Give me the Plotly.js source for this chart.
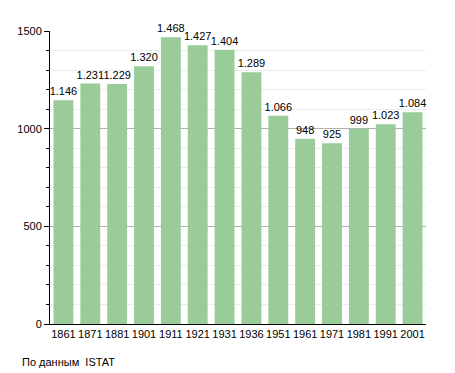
<!DOCTYPE html>
<html><head><meta charset="utf-8">
<script src="https://cdn.plot.ly/plotly-3.0.1.min.js"></script>
<style>html,body{margin:0;padding:0;background:#fff}#chart{width:455px;height:373px}</style>
</head><body><div id="chart"></div>
<script>
const years = ["1861","1871","1881","1901","1911","1921","1931","1936","1951","1961","1971","1981","1991","2001"];
const population = [1146,1231,1229,1320,1468,1427,1404,1289,1066,948,925,999,1023,1084];
const sourceNote = "По данным  ISTAT";

const trace = {
  type: 'bar', x: years, y: population,
  marker: {color: '#99cc99', line: {width: 0}},
  texttemplate: '%{y:,}', textposition: 'outside', cliponaxis: false, constraintext: 'none',
  textfont: {family: 'Liberation Sans, Arial, sans-serif', size: 11, color: '#000'},
  hoverinfo: 'none'
};
const layout = {
  width: 455, height: 373,
  margin: {l: 50, r: 29, t: 31, b: 49},
  separators: ',.',
  paper_bgcolor: '#fff', plot_bgcolor: '#fff',
  font: {family: 'Liberation Sans, Arial, sans-serif', size: 11, color: '#000'},
  bargap: 0.26,
  showlegend: false,
  xaxis: {type: 'category', showline: true, linecolor: '#000', linewidth: 1, ticks: '', showgrid: false, tickfont: {size: 11}},
  yaxis: {range: [0, 1500], dtick: 500, showline: true, linecolor: '#000', linewidth: 1,
    ticks: 'outside', ticklen: 5, tickcolor: '#000', gridcolor: '#b0b0b0', gridwidth: 1, zeroline: false,
    tickformat: 'd', tickfont: {size: 11},
    minor: {dtick: 100, ticks: 'outside', ticklen: 3, tickcolor: '#000', showgrid: true, gridcolor: '#ececec', gridwidth: 1}},
  annotations: [{text: sourceNote, xref: 'paper', yref: 'paper', x: -0.08, y: -0.13, xanchor: 'left', yanchor: 'middle', showarrow: false, font: {size: 11}}]
};
Plotly.newPlot('chart', [trace], layout, {displayModeBar: false, staticPlot: true});
</script></body></html>
